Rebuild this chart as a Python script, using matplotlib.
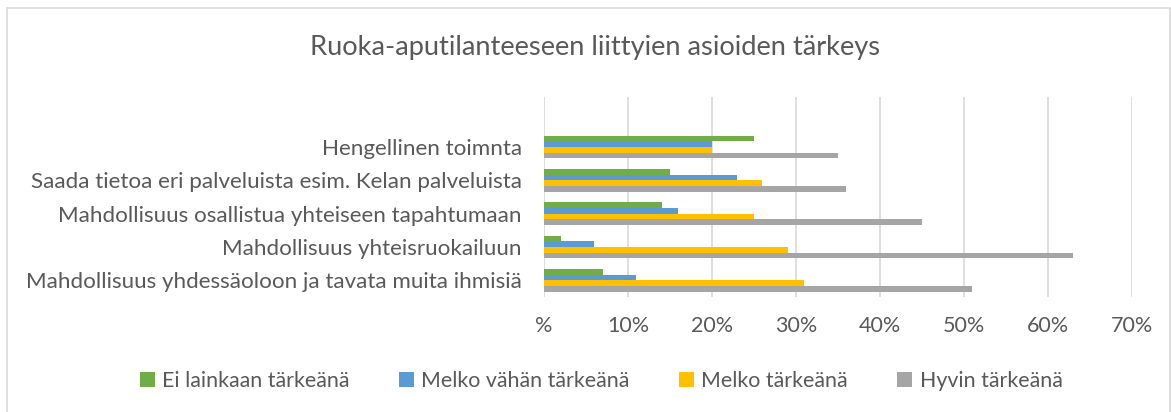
import numpy as np
import matplotlib
matplotlib.use("Agg")
import matplotlib.pyplot as plt
from matplotlib.patches import Rectangle

plt.rcParams['font.family'] = ['Lato', 'DejaVu Sans']

# categories listed bottom -> top (Excel order)
categories = [
    "Mahdollisuus yhdessäoloon ja tavata muita ihmisiä",
    "Mahdollisuus yhteisruokailuun",
    "Mahdollisuus osallistua yhteiseen tapahtumaan",
    "Saada tietoa eri palveluista esim. Kelan palveluista",
    "Hengellinen toimnta",
]
series_names = ["Ei lainkaan tärkeänä", "Melko vähän tärkeänä",
                "Melko tärkeänä", "Hyvin tärkeänä"]
ei_lainkaan = [0.07, 0.02, 0.14, 0.15, 0.25]
melko_vahan = [0.11, 0.06, 0.16, 0.23, 0.20]
melko = [0.31, 0.29, 0.25, 0.26, 0.20]
hyvin = [0.51, 0.63, 0.45, 0.36, 0.35]
xticks = [0, 0.1, 0.2, 0.3, 0.4, 0.5, 0.6, 0.7]
xtick_labels = ["%", "10%", "20%", "30%", "40%", "50%", "60%", "70%"]

colors = ["#70AD47", "#5B9BD5", "#FFC000", "#A5A5A5"]
text_col = "#595959"

fig = plt.figure(figsize=(11.71, 4.12), dpi=100)
fig.patches.append(Rectangle((7 / 1171, -0.02), 1163 / 1171, 1 - 8 / 412 + 0.02,
                             transform=fig.transFigure, fill=False,
                             edgecolor="#D9D9D9", linewidth=1.2))
ax = fig.add_axes([544 / 1171, 1 - 297 / 412, (1132 - 544) / 1171, 200 / 412])

y = np.arange(len(categories))
h = 0.17
all_series = [ei_lainkaan, melko_vahan, melko, hyvin]
for i, (vals, name, c) in enumerate(zip(all_series, series_names, colors)):
    ax.barh(y + (1.5 - i) * h, vals, height=h, color=c, label=name)

ax.set_xlim(0, 0.7)
ax.set_ylim(-0.5, 5.5)
ax.set_xticks(xticks)
ax.set_xticklabels(xtick_labels)
ax.set_yticks(y)
ax.set_yticklabels(categories)
ax.tick_params(axis="both", length=0, colors=text_col)
ax.tick_params(axis="x", pad=14, labelsize=15.5)
ax.tick_params(axis="y", pad=16, labelsize=16.1)
ax.xaxis.grid(True, color="#D9D9D9", linewidth=1.2)
ax.set_axisbelow(True)
for s in ax.spines.values():
    s.set_visible(False)

fig.text(595 / 1171, 1 - 47 / 412, "Ruoka-aputilanteeseen liittyien asioiden tärkeys",
         ha="center", va="center", fontsize=19.6, color=text_col)

handles, labels = ax.get_legend_handles_labels()
fig.legend(handles, labels, loc="center", bbox_to_anchor=(601 / 1171, 1 - 381 / 412),
           ncol=4, frameon=False, fontsize=15.4, labelcolor=text_col,
           handlelength=0.7, handleheight=0.7, handletextpad=0.35, columnspacing=2.3)

fig.savefig("out.png", dpi=100)
